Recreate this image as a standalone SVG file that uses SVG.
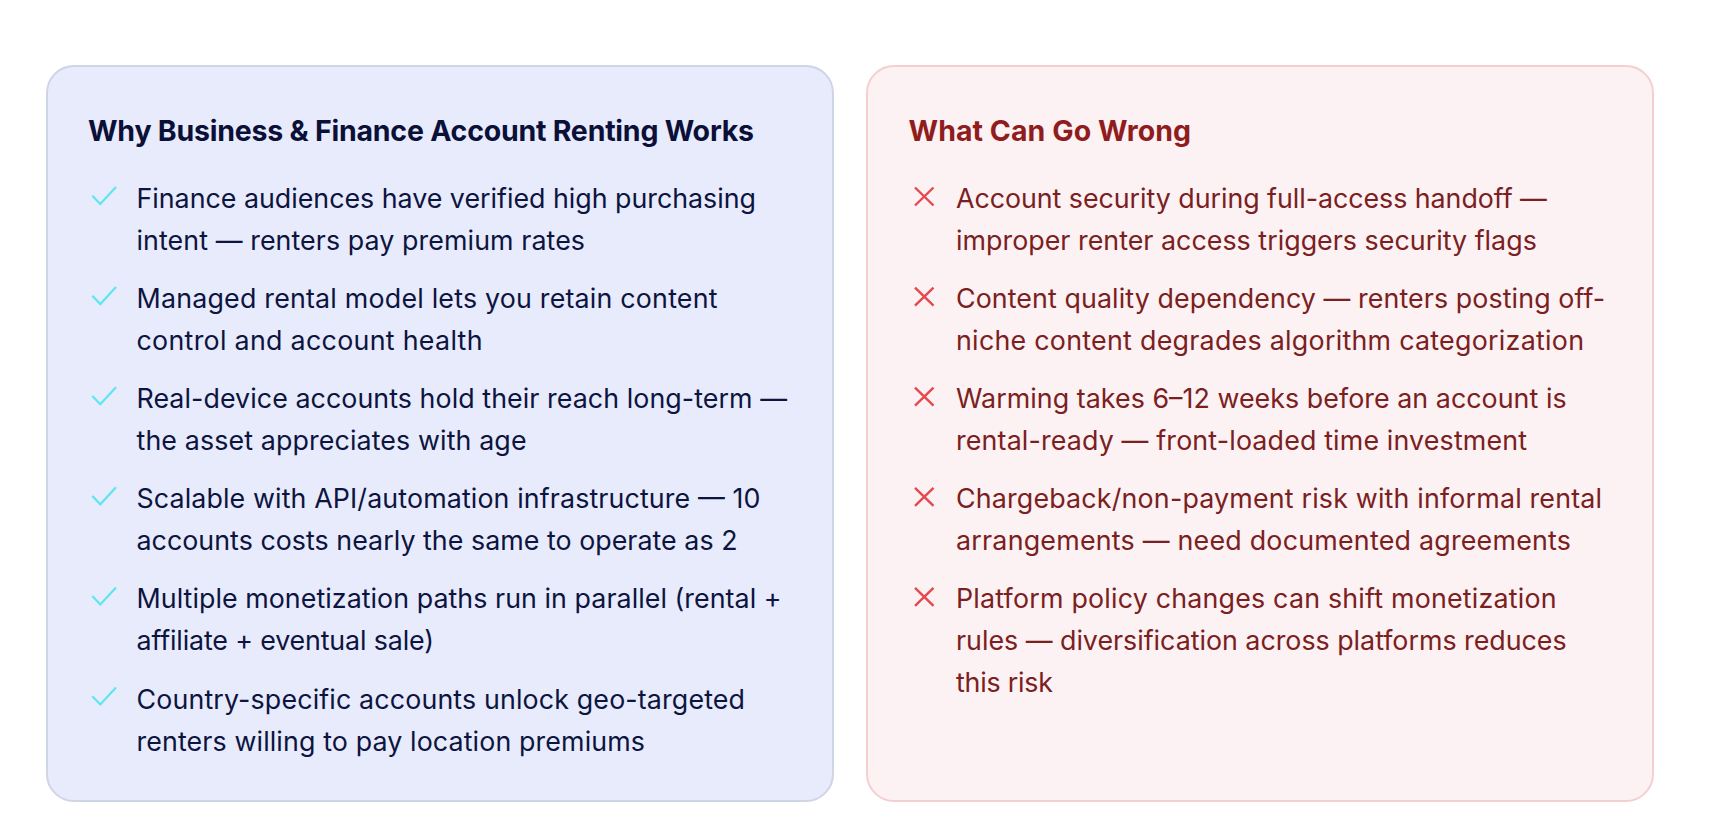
<svg xmlns="http://www.w3.org/2000/svg" width="1731" height="828" viewBox="0 0 1731 828">
<style>
.t{font-family:"Inter","Liberation Sans",sans-serif;font-size:26.8px}
.h{font-family:"Inter","Liberation Sans",sans-serif;font-size:28.5px;font-weight:700}
.g{fill:#0d1440}.r{fill:#7a2020}
.ck{fill:none;stroke:#5ce6f2;stroke-width:2.2}
.xx{fill:none;stroke:#e5484d;stroke-width:2.4}
</style>
<rect width="1731" height="828" fill="#fff"/>
<g id="card-left"><rect x="47" y="66" width="786" height="735" rx="27" fill="#e7ebfb" stroke="#cfd4e6" stroke-width="2"/>
<text class="h" x="88" y="140.8" fill="#0a1038" textLength="666">Why Business &amp; Finance Account Renting Works</text>
<path class="ck" d="M92.3 195.7l8 8.3 15.7-17"/>
<path class="ck" d="M92.3 295.8l8 8.3 15.7-17"/>
<path class="ck" d="M92.3 395.9l8 8.3 15.7-17"/>
<path class="ck" d="M92.3 496l8 8.3 15.7-17"/>
<path class="ck" d="M92.3 596.1l8 8.3 15.7-17"/>
<path class="ck" d="M92.3 696.2l8 8.3 15.7-17"/>
<text class="t g" x="136.5" y="208" textLength="619.5">Finance audiences have verified high purchasing</text>
<text class="t g" x="136.5" y="250" textLength="448.5">intent — renters pay premium rates</text>
<text class="t g" x="136.5" y="308.1" textLength="581">Managed rental model lets you retain content</text>
<text class="t g" x="136.5" y="350.1" textLength="346">control and account health</text>
<text class="t g" x="136.5" y="408.2" textLength="650.5">Real-device accounts hold their reach long-term —</text>
<text class="t g" x="136.5" y="450.2" textLength="390">the asset appreciates with age</text>
<text class="t g" x="136.5" y="508.3" textLength="624">Scalable with API/automation infrastructure — 10</text>
<text class="t g" x="136.5" y="550.3" textLength="601">accounts costs nearly the same to operate as 2</text>
<text class="t g" x="136.5" y="608.4" textLength="645">Multiple monetization paths run in parallel (rental +</text>
<text class="t g" x="136.5" y="650.4" textLength="297.5">affiliate + eventual sale)</text>
<text class="t g" x="136.5" y="708.5" textLength="608.5">Country-specific accounts unlock geo-targeted</text>
<text class="t g" x="136.5" y="750.5" textLength="508.5">renters willing to pay location premiums</text>
</g>
<g id="card-right"><rect x="867" y="66" width="786" height="735" rx="27" fill="#fcf1f3" stroke="#f5cfd0" stroke-width="2"/>
<text class="h" x="908.5" y="140.8" fill="#8f1d1d" textLength="282.5">What Can Go Wrong</text>
<path class="xx" d="M915 187.5l18.5 18M933.5 187.5l-18.5 18"/>
<path class="xx" d="M915 287.6l18.5 18M933.5 287.6l-18.5 18"/>
<path class="xx" d="M915 387.7l18.5 18M933.5 387.7l-18.5 18"/>
<path class="xx" d="M915 487.8l18.5 18M933.5 487.8l-18.5 18"/>
<path class="xx" d="M915 587.9l18.5 18M933.5 587.9l-18.5 18"/>
<text class="t r" x="956" y="208" textLength="590.8">Account security during full-access handoff —</text>
<text class="t r" x="956" y="250" textLength="580.8">improper renter access triggers security flags</text>
<text class="t r" x="956" y="308.1" textLength="649">Content quality dependency — renters posting off-</text>
<text class="t r" x="956" y="350.1" textLength="628">niche content degrades algorithm categorization</text>
<text class="t r" x="956" y="408.2" textLength="610.6">Warming takes 6–12 weeks before an account is</text>
<text class="t r" x="956" y="450.2" textLength="571">rental-ready — front-loaded time investment</text>
<text class="t r" x="956" y="508.3" textLength="646">Chargeback/non-payment risk with informal rental</text>
<text class="t r" x="956" y="550.3" textLength="615">arrangements — need documented agreements</text>
<text class="t r" x="956" y="608.4" textLength="600.6">Platform policy changes can shift monetization</text>
<text class="t r" x="956" y="650.4" textLength="610.6">rules — diversification across platforms reduces</text>
<text class="t r" x="956" y="692.4" textLength="97">this risk</text>
</g>
</svg>
